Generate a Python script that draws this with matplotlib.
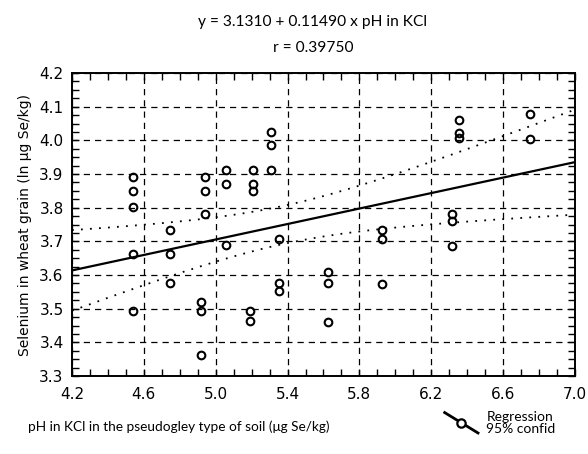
import numpy as np
import matplotlib
matplotlib.use("Agg")
import matplotlib.pyplot as plt
from matplotlib.lines import Line2D
from matplotlib.legend_handler import HandlerBase
from matplotlib.ticker import MultipleLocator, FixedLocator

# data (pH in KCl, ln Se in wheat grain)
ph = [4.54, 4.54, 4.54, 4.54, 4.54,
      4.745, 4.745, 4.745,
      4.94, 4.94, 4.94,
      4.92, 4.92, 4.92,
      5.06, 5.06, 5.06,
      5.21, 5.21, 5.21,
      5.19, 5.19,
      5.31, 5.31, 5.31,
      5.35, 5.35, 5.35,
      5.625, 5.625, 5.625,
      5.928, 5.928, 5.928,
      6.315, 6.315, 6.315,
      6.352, 6.352, 6.352,
      6.75, 6.75]
se = [3.892, 3.850, 3.802, 3.661, 3.493,
      3.733, 3.661, 3.576,
      3.892, 3.850, 3.781,
      3.521, 3.493, 3.361,
      3.912, 3.870, 3.688,
      3.912, 3.870, 3.850,
      3.494, 3.463,
      4.024, 3.986, 3.912,
      3.707, 3.577, 3.553,
      3.608, 3.576, 3.461,
      3.735, 3.706, 3.574,
      3.780, 3.759, 3.686,
      4.060, 4.022, 4.008,
      4.077, 4.005]

x_ticks = [4.2, 4.6, 5.0, 5.4, 5.8, 6.2, 6.6, 7.0]

intercept = 3.1310
slope = 0.11490
r_value = 0.39750

x = np.array(ph)
y = np.array(se)

# regression line and 95% confidence band
xs = np.linspace(4.2, 7.0, 200)
yhat = intercept + slope * xs
n = len(x)
resid = y - (intercept + slope * x)
s = np.sqrt(np.sum(resid ** 2) / (n - 2))
sxx = np.sum((x - x.mean()) ** 2)
t_crit = 2.021
half = t_crit * s * np.sqrt(1.0 / n + (xs - x.mean()) ** 2 / sxx)


class SlantHandler(HandlerBase):
    def create_artists(self, legend, orig_handle, xdescent, ydescent,
                       width, height, fontsize, trans):
        ln = Line2D([0, width], [height * 1.6, -height * 0.5],
                    color="black", lw=2, transform=trans)
        mk = Line2D([width * 0.5], [height * 0.55], marker="o", ms=6,
                    mfc="white", mec="black", mew=1.6, transform=trans)
        return [ln, mk]


fig = plt.figure(figsize=(5.88, 4.54), dpi=100)
ax = fig.add_axes([0.1224, 0.1718, 0.8555, 0.6674])

ax.plot(x, y, "o", ms=5.5, mfc="none", mec="black", mew=1.5, zorder=4)
ax.plot(xs, yhat, color="black", lw=1.6, zorder=3)
ax.plot(xs, yhat + half, color="black", lw=1.3, ls=(0, (1, 4)), zorder=3)
ax.plot(xs, yhat - half, color="black", lw=1.3, ls=(0, (1, 4)), zorder=3)

ax.set_xlim(4.2, 7.0)
ax.set_ylim(3.3, 4.2)
ax.xaxis.set_major_locator(FixedLocator(x_ticks))
ax.xaxis.set_minor_locator(MultipleLocator(0.1))
ax.yaxis.set_major_locator(MultipleLocator(0.1))
ax.yaxis.set_minor_locator(MultipleLocator(0.025))
ax.xaxis.set_major_formatter(plt.FormatStrFormatter("%.1f"))
ax.yaxis.set_major_formatter(plt.FormatStrFormatter("%.1f"))
ax.tick_params(which="both", direction="in", top=True, right=True,
               length=5, width=1, color="black")
ax.tick_params(which="major", labelsize=11)
ax.tick_params(axis="x", which="major", pad=8)
ax.tick_params(axis="y", which="major", pad=6)
ax.grid(True, which="major", color="black", ls=(0, (5, 4)), lw=0.9)
for sp in ax.spines.values():
    sp.set_linewidth(1.4)

ax.set_ylabel("Selenium in wheat grain (ln μg Se/kg)", fontsize=10, labelpad=5)
fig.text(0.048, 0.06, "pH in KCl in the pseudogley type of soil (μg Se/kg)",
         fontsize=9.8, family="Lato", ha="left", va="center")

fig.text(0.532, 0.952, f"y = {intercept:.4f} + {slope:.5f} x pH in KCl",
         fontsize=11.2, family="Lato", ha="center", va="center")
fig.text(0.532, 0.895, f"r = {r_value:.5f}", fontsize=11.2, family="Lato",
         ha="center", va="center")

leg = fig.legend([object()], ["Regression\n95% confid"],
                 handler_map={object: SlantHandler()},
                 loc="center left", bbox_to_anchor=(0.735, 0.068),
                 frameon=False, fontsize=10, handlelength=2.4,
                 handletextpad=0.6, labelspacing=0)
for t in leg.get_texts():
    t.set_family("Lato")
    t.set_linespacing(1.05)

fig.savefig("out.png", dpi=100)
